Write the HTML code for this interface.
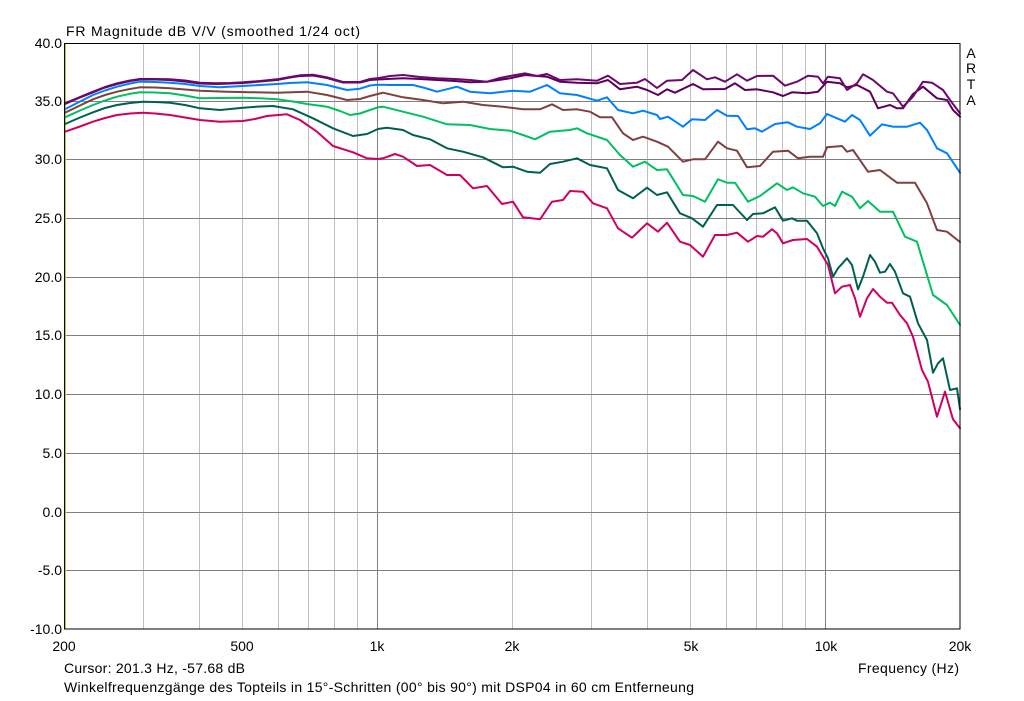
<!DOCTYPE html>
<html>
<head>
<meta charset="utf-8">
<style>
html,body{margin:0;padding:0;background:#fff;}
svg{display:block;}
text{font-family:"Liberation Sans",Arial,sans-serif;font-size:14px;fill:#000;}
</style>
</head>
<body>
<svg width="1024" height="701" viewBox="0 0 1024 701" xmlns="http://www.w3.org/2000/svg">
<rect x="0" y="0" width="1024" height="701" fill="#fff"/>
<!-- minor vertical grid -->
<g stroke="#c0c0c0" stroke-width="1" shape-rendering="crispEdges">
<line x1="143.5" y1="43" x2="143.5" y2="629"/>
<line x1="199.5" y1="43" x2="199.5" y2="629"/>
<line x1="242.5" y1="43" x2="242.5" y2="629"/>
<line x1="278.5" y1="43" x2="278.5" y2="629"/>
<line x1="308.5" y1="43" x2="308.5" y2="629"/>
<line x1="334.5" y1="43" x2="334.5" y2="629"/>
<line x1="357.5" y1="43" x2="357.5" y2="629"/>
<line x1="512.5" y1="43" x2="512.5" y2="629"/>
<line x1="591.5" y1="43" x2="591.5" y2="629"/>
<line x1="647.5" y1="43" x2="647.5" y2="629"/>
<line x1="690.5" y1="43" x2="690.5" y2="629"/>
<line x1="726.5" y1="43" x2="726.5" y2="629"/>
<line x1="756.5" y1="43" x2="756.5" y2="629"/>
<line x1="782.5" y1="43" x2="782.5" y2="629"/>
<line x1="805.5" y1="43" x2="805.5" y2="629"/>
</g>
<!-- major grid -->
<g stroke="#808080" stroke-width="1" shape-rendering="crispEdges">
<line x1="377.5" y1="43" x2="377.5" y2="629"/>
<line x1="825.5" y1="43" x2="825.5" y2="629"/>
<line x1="64" y1="101.5" x2="960" y2="101.5"/>
<line x1="64" y1="159.5" x2="960" y2="159.5"/>
<line x1="64" y1="218.5" x2="960" y2="218.5"/>
<line x1="64" y1="277.5" x2="960" y2="277.5"/>
<line x1="64" y1="335.5" x2="960" y2="335.5"/>
<line x1="64" y1="394.5" x2="960" y2="394.5"/>
<line x1="64" y1="453.5" x2="960" y2="453.5"/>
<line x1="64" y1="512.5" x2="960" y2="512.5"/>
<line x1="64" y1="570.5" x2="960" y2="570.5"/>
</g>
<!-- cursor -->
<line x1="65.5" y1="43" x2="65.5" y2="629" stroke="#c8d000" stroke-width="1" shape-rendering="crispEdges"/>
<!-- curves -->
<g fill="none" stroke-width="2" stroke-linejoin="round" stroke-linecap="round">
<polyline stroke="#d00060" points="65,131.7 80,126.5 93,121.7 105,118 117,115 130,113.5 143,112.7 155,113.5 170,115 185,117.5 200,120 220,121.7 243,121 255,119 267,116 287,114.3 300,120 317,131.7 333,146 353,152.3 367,158.3 378,159 383,158.3 395,154 403,156.7 417,166 430,165 447,175 460,175 473,188.3 487,186 502,204 513,201.7 523,217.3 540,219.3 552,201.7 563,200 570,191 583,191.7 593,203.3 607,208.3 618,228.3 632,237.7 647,223.3 658,231.7 667,222.7 680,241.7 690,245 703,256.7 715,235 727,235 737,232.7 748,241.7 757,236 763,236.7 772,229.3 777,233.3 783,243.3 793,240 807,239 817,246.7 823,256.7 828,265 835,293.3 842,286.7 850,285 855,298.3 860,316.7 867,298.3 873,289 880,296.7 887,302.7 892,302.7 900,315 907,323.3 913,336.7 922,370 928,381.7 937,416.7 945,391.7 953,419.3 960,428.3"/>
<polyline stroke="#006050" points="65,124 80,117.5 93,112.3 105,108 117,105 130,103 143,101.7 155,102 170,102.7 185,105 200,108.3 220,110 243,107.7 260,106.5 273,106 293,109.3 313,118.3 333,128.3 353,136 367,134 378,129 387,127.7 403,130 413,135 430,139.3 447,148.3 463,151.7 483,157.3 503,167.3 513,166.7 527,171.7 540,172.7 550,164 563,161.7 577,158.3 590,165 607,168.3 618,190 633,198.3 647,187.7 657,195 667,192.3 680,213.3 692,218.3 703,226.7 717,205 733,205 747,220 753,214 763,213.3 775,207.3 783,220.7 792,218.3 797,220.7 807,220.7 817,233.3 823,248.3 828,258.3 833,276.7 838,268.3 847,258.3 852,265 858,289.3 863,276.7 870,255 875,261.7 880,272.7 885,271.7 890,264 895,271.7 903,293.3 910,296.7 918,323.3 927,340 933,372.7 938,363.3 943,358.3 950,390 957,388.3 960,409.3"/>
<polyline stroke="#00c060" points="65,117.3 80,110.5 93,105 105,100.5 117,96.7 130,93.8 140,92.3 155,92.5 170,93.3 185,95.5 200,98.3 220,98 243,97.7 260,98.3 277,99.3 293,101.5 307,104 327,106.7 340,111 350,115 360,113.5 367,111 378,107.3 383,106.7 403,111.7 423,116.7 447,124.3 470,125 490,129 510,130.7 523,135 535,139.3 550,131.7 570,130 577,128.3 587,133.3 607,140 620,155 633,166.7 645,161.7 657,170 667,169.3 683,195 693,196 705,201.7 718,179.3 727,182.7 735,182.7 748,201.7 760,196 777,183.3 787,190 793,187.3 803,193.3 815,196.7 823,206 830,202.7 835,206 842,191.7 852,196.7 860,208.3 868,201 880,211.7 893,211.7 905,236.7 917,241.7 933,295 947,305 960,325"/>
<polyline stroke="#804040" points="65,112.7 80,105.5 93,99.3 105,95 117,91.7 130,89 140,87.3 155,87.5 170,88.3 185,89.5 200,90.7 227,91.7 250,92.2 277,92.7 307,91.7 327,95 347,100 360,99 370,96 383,92.7 403,97.3 423,100 443,103.3 463,101.7 483,105 503,106.7 523,109.3 540,109.3 552,104.3 563,110 577,109.3 590,111.7 600,117.3 612,117.3 623,133.3 633,140 643,136.7 657,141.7 668,146.7 683,161.7 693,159.3 705,159.3 718,141.7 727,148.3 737,150.7 747,167.3 760,166 773,151.7 788,150.7 798,158.3 810,156.7 823,156.7 827,147.3 842,146 847,151.7 853,150 868,171.7 880,170 897,182.7 915,182.7 927,203.3 937,230 947,231.7 960,242"/>
<polyline stroke="#0080ff" points="65,109.3 80,101.5 93,95 105,90.5 117,86.7 130,83.5 140,81.7 155,82 170,82.7 185,84 200,86 220,87.3 243,86 260,85 277,84 290,83 307,82.3 327,85 347,90 360,88.7 370,85.5 377,84.7 390,85 413,85 425,88 437,91.7 457,86.7 470,91.7 490,93.3 513,90.7 530,91.7 547,85 560,93.3 577,95 597,100.7 607,97.3 618,110 633,113.3 643,110.7 657,115 660,119 668,116.7 683,126.7 692,119.3 705,120 717,110 727,115.7 738,116 747,129.3 755,128.3 762,131.7 775,124 788,122.3 797,126.7 810,129 820,123.3 827,114 837,118.3 845,121.7 852,115 860,120 870,135.7 882,124.3 893,126.7 907,126.7 920,122.7 927,130 937,148.3 947,153.3 960,172.7"/>
<polyline stroke="#5c005c" points="65,104 80,97.5 93,92.3 105,87.5 117,84 130,81 140,79.5 155,79.5 170,80 185,81.5 200,83.5 217,84 230,83.5 243,83 260,81.5 277,80 290,77.5 300,76 313,75.5 327,78 343,82.5 360,82.5 370,80 387,79 403,78.3 420,79 437,80 455,81 470,82.3 487,81.7 510,78.3 525,75 547,76.7 560,81.7 577,82.7 597,83.3 608,80 620,89.3 637,86.7 647,90 658,95 667,89.3 675,92.7 693,84 703,89.3 725,89 735,83.3 745,90 757,89.3 773,92.3 783,96 792,92.3 807,93.3 818,91.7 827,81.7 840,83.3 847,87.3 857,85 870,91.7 878,108.3 890,105 897,108.3 903,108.3 913,94 923,86.7 937,98.3 947,100 953,110 960,116.7"/>
<polyline stroke="#6c086c" points="65,103.3 80,97 93,91.7 105,87 117,83.3 130,80.5 140,79 155,79 170,79.3 185,80.5 200,82.7 217,83.3 230,83 243,82.3 260,81 277,79.3 290,77 300,75.3 313,74.7 327,77.3 343,82 360,82 370,79 377,78.3 390,76 403,75 420,77 437,78.3 455,79 470,80 487,81.7 500,78 510,76 525,73.3 537,76 547,74 560,80 577,79.3 597,80.7 608,75.7 620,84 637,82.7 645,79 657,88 667,80.7 682,80 693,70 707,79.3 715,77.3 725,81.7 737,74.3 747,80.7 757,76 773,75.7 785,85.7 797,81.7 808,75.7 818,76.7 823,83.3 828,76.7 840,78.3 847,90 857,83.3 863,74.3 873,80 887,91.7 893,93.3 903,106.7 913,96.7 923,81.7 932,82.7 943,90 950,100 960,113.3"/>
</g>
<!-- frame -->
<rect x="64.5" y="43.5" width="895.5" height="585.5" fill="none" stroke="#000" stroke-width="1" shape-rendering="crispEdges"/>
<!-- title -->
<text x="66" y="36" textLength="294" lengthAdjust="spacing">FR Magnitude dB V/V (smoothed 1/24 oct)</text>
<!-- y labels -->
<g text-anchor="end">
<text x="62" y="48">40.0</text>
<text x="62" y="106">35.0</text>
<text x="62" y="164">30.0</text>
<text x="62" y="223">25.0</text>
<text x="62" y="282">20.0</text>
<text x="62" y="340">15.0</text>
<text x="62" y="399">10.0</text>
<text x="62" y="458">5.0</text>
<text x="62" y="517">0.0</text>
<text x="62" y="575">-5.0</text>
<text x="62" y="634">-10.0</text>
</g>
<!-- x labels -->
<g text-anchor="middle">
<text x="64" y="651">200</text>
<text x="242" y="651">500</text>
<text x="377" y="651">1k</text>
<text x="512" y="651">2k</text>
<text x="691" y="651">5k</text>
<text x="826" y="651">10k</text>
<text x="960" y="651">20k</text>
</g>
<!-- ARTA -->
<g text-anchor="middle">
<text x="971" y="58">A</text>
<text x="971" y="73">R</text>
<text x="971" y="89">T</text>
<text x="971" y="105">A</text>
</g>
<text x="64" y="673" textLength="181" lengthAdjust="spacing">Cursor: 201.3 Hz, -57.68 dB</text>
<text x="858" y="673" textLength="101" lengthAdjust="spacing">Frequency (Hz)</text>
<text x="64" y="692" textLength="630" lengthAdjust="spacing">Winkelfrequenzgänge des Topteils in 15°-Schritten (00° bis 90°) mit DSP04 in 60 cm Entferneung</text>
</svg>
</body>
</html>
